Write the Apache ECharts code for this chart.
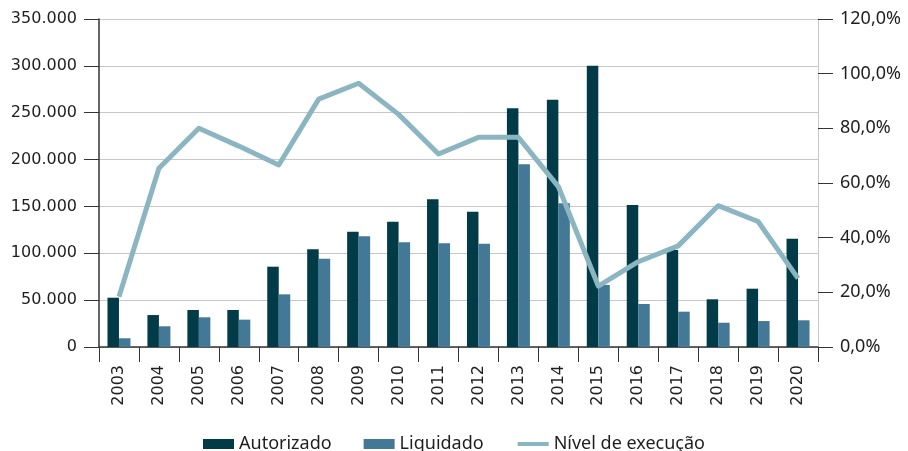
<!DOCTYPE html>
<html>
<head>
<meta charset="utf-8">
<script src="https://cdn.jsdelivr.net/npm/echarts@6/dist/echarts.min.js"></script>
<style>
  html, body { margin: 0; padding: 0; background: #ffffff; }
  #chart { width: 908px; height: 451px; }
</style>
</head>
<body>
<div id="chart"></div>
<script>
// Orçamento por ano: valores autorizados e liquidados, e nível de execução (%)
const years = ['2003', '2004', '2005', '2006', '2007', '2008', '2009', '2010', '2011',
               '2012', '2013', '2014', '2015', '2016', '2017', '2018', '2019', '2020'];
const autorizado = [52600, 34100, 39500, 39500, 85700, 104200, 123000, 133700, 157600,
                    144400, 254700, 263900, 300000, 151500, 103500, 50900, 62200, 115600];
const liquidado = [9300, 22100, 31700, 29200, 56200, 94200, 118100, 111700, 110600,
                   110200, 195000, 153300, 66200, 45900, 37700, 25900, 27700, 28500];
const nivelExecucao = [18.4, 65.4, 80.0, 73.5, 66.6, 90.7, 96.5, 85.1, 70.6,
                       76.7, 76.7, 58.7, 22.3, 31.2, 37.0, 51.7, 45.9, 25.1];
const seriesNames = ['Autorizado', 'Liquidado', 'Nível de execução'];

const DARK = '#003b47';
const MID = '#437896';
const LIGHT = '#8bb5c1';
const TEXT = '#1e1e1e';

function thousands(v) {
  return String(v).replace(/\B(?=(\d{3})+(?!\d))/g, '.');
}

const chart = echarts.init(document.getElementById('chart'), null, { renderer: 'canvas' });

chart.setOption({
  animation: false,
  backgroundColor: '#ffffff',
  grid: { left: 99, right: 90, top: 19, bottom: 104, containLabel: false },
  legend: {
    data: [
      { name: seriesNames[0], icon: 'rect' },
      { name: seriesNames[1], icon: 'rect' },
      // plain thick line only: hide the marker that line legends draw in the middle
      {
        name: seriesNames[2],
        itemStyle: { opacity: 0, color: 'rgba(0,0,0,0)', borderWidth: 0 },
        lineStyle: { width: 4, color: LIGHT }
      }
    ],
    left: 'center',
    top: 430,
    itemWidth: 31,
    itemHeight: 10,
    itemGap: 32,
    textStyle: { fontFamily: 'Noto Sans', fontSize: 18, color: TEXT }
  },
  xAxis: {
    type: 'category',
    data: years,
    boundaryGap: true,
    axisLine: { show: true, lineStyle: { color: '#333333', width: 1.5 } },
    axisTick: { show: true, interval: 0, length: 15, lineStyle: { color: '#333333', width: 1 } },
    axisLabel: {
      interval: 0,
      rotate: 90,
      margin: 18,
      fontFamily: 'DejaVu Sans',
      fontSize: 16,
      color: TEXT
    }
  },
  yAxis: [
    {
      type: 'value',
      min: 0,
      max: 350000,
      interval: 50000,
      axisLine: { show: true, lineStyle: { color: '#333333', width: 1.5 } },
      axisTick: { show: true, length: 15, lineStyle: { color: '#333333', width: 1 } },
      axisLabel: {
        margin: 22,
        fontFamily: 'DejaVu Sans',
        fontSize: 16,
        color: TEXT,
        formatter: v => thousands(v)
      },
      splitLine: { show: true, lineStyle: { color: '#c8c8c8', width: 1 } }
    },
    {
      type: 'value',
      min: 0,
      max: 120,
      interval: 20,
      position: 'right',
      axisLine: { show: true, lineStyle: { color: '#c8c8c8', width: 1 } },
      axisTick: { show: true, length: 15, lineStyle: { color: '#333333', width: 1 } },
      axisLabel: {
        margin: 22,
        fontFamily: 'Noto Sans',
        fontSize: 18,
        color: TEXT,
        formatter: v => v.toFixed(1).replace('.', ',') + '%'
      },
      splitLine: { show: false }
    }
  ],
  series: [
    {
      name: seriesNames[0],
      type: 'bar',
      data: autorizado,
      yAxisIndex: 0,
      barWidth: 11.5,
      barGap: '0%',
      itemStyle: { color: DARK },
      z: 2
    },
    {
      name: seriesNames[1],
      type: 'bar',
      data: liquidado,
      yAxisIndex: 0,
      barWidth: 11.5,
      barGap: '0%',
      itemStyle: { color: MID },
      z: 2
    },
    {
      name: seriesNames[2],
      type: 'line',
      data: nivelExecucao,
      yAxisIndex: 1,
      symbol: 'none',
      showSymbol: false,
      lineStyle: { color: LIGHT, width: 5, join: 'round' },
      itemStyle: { color: LIGHT },
      z: 5
    }
  ]
});
</script>
</body>
</html>
